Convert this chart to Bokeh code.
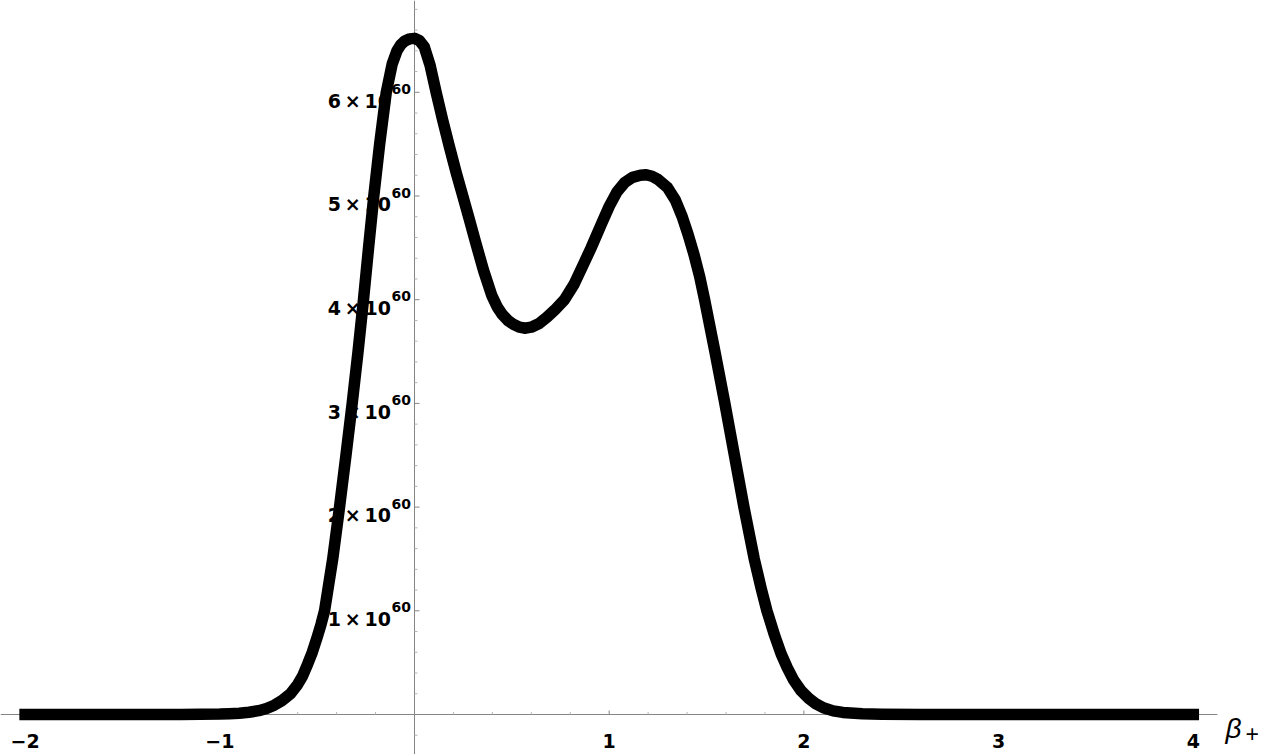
from bokeh.plotting import figure
from bokeh.models import Range1d
from bokeh.core.properties import value
from bokeh.embed import file_html
from bokeh.resources import INLINE

SCALE = 1e60

# curve (density in units of 1e60)
beta = [
    -2.0, -1.6, -1.2, -1.0, -0.95, -0.9, -0.85, -0.8, -0.76, -0.72,
    -0.68, -0.637, -0.6, -0.575, -0.548, -0.525, -0.5, -0.48, -0.462, -0.42,
    -0.385, -0.352, -0.32, -0.29, -0.262, -0.236, -0.209, -0.179, -0.145, -0.115,
    -0.09, -0.07, -0.05, -0.025, 0.0, 0.025, 0.05, 0.08, 0.111, 0.145,
    0.18, 0.215, 0.248, 0.28, 0.312, 0.355, 0.397, 0.425, 0.45, 0.48,
    0.51, 0.54, 0.565, 0.6, 0.64, 0.68, 0.72, 0.77, 0.82, 0.87,
    0.907, 0.96, 1.0, 1.04, 1.08, 1.12, 1.16, 1.19, 1.22, 1.25,
    1.3, 1.34, 1.375, 1.405, 1.435, 1.465, 1.49, 1.543, 1.594, 1.643,
    1.692, 1.745, 1.78, 1.81, 1.85, 1.883, 1.915, 1.948, 1.985, 2.025,
    2.06, 2.1, 2.15, 2.2, 2.3, 2.4, 2.6, 2.8, 3.2, 3.6, 4.0]
density = [
    0.0, 0.0, 0.0005, 0.004, 0.008, 0.013, 0.022, 0.037, 0.058, 0.09,
    0.135, 0.2, 0.29, 0.37, 0.49, 0.6, 0.745, 0.87, 1.0, 1.5,
    2.0, 2.5, 3.0, 3.5, 4.0, 4.5, 5.0, 5.5, 6.0, 6.27,
    6.4, 6.46, 6.495, 6.515, 6.52, 6.5, 6.44, 6.26, 6.0, 5.73,
    5.47, 5.22, 5.0, 4.785, 4.565, 4.28, 4.04, 3.93, 3.86, 3.8,
    3.76, 3.735, 3.725, 3.735, 3.77, 3.83, 3.9, 4.0, 4.15, 4.35,
    4.5, 4.73, 4.9, 5.04, 5.13, 5.18, 5.2, 5.205, 5.19, 5.16,
    5.08, 4.96, 4.8, 4.63, 4.44, 4.22, 4.0, 3.5, 3.0, 2.5,
    2.0, 1.5, 1.22, 1.0, 0.76, 0.585, 0.45, 0.33, 0.23, 0.155,
    0.105, 0.065, 0.035, 0.02, 0.007, 0.003, 0.0005, 0.0, 0.0, 0.0, 0.0]

x_major = [-2, -1, 1, 2, 3, 4]
x_major_labels = ["\u22122", "\u22121", "1", "2", "3", "4"]
y_major = [1, 2, 3, 4, 5, 6]
y_major_labels = ["1", "2", "3", "4", "5", "6"]
y_exponent = "60"
axis_label = "\u03b2"
axis_label_sub = "+"

W, H = 1263, 754
PXU = 194.7            # pixels per unit of beta
PYU = 103.7            # pixels per 1e60
X0 = -414 / PXU
X1 = X0 + W / PXU
Y1 = 714 / PYU * SCALE
Y0 = Y1 - H / PYU * SCALE
PX = (X1 - X0) / W          # data-x per pixel
PY = (Y1 - Y0) / H          # data-y per pixel
X_AXIS_END = 4.124

x_minor = [round(-2 + 0.2 * i, 3) for i in range(31)]
x_minor = [v for v in x_minor if abs(v - round(v)) > 1e-6]
y_minor = [round(-0.2 + 0.2 * i, 3) for i in range(36)]
y_minor = [v for v in y_minor if abs(v - round(v)) > 1e-6 and v * SCALE < Y1]

p = figure(width=W, height=H, x_range=Range1d(X0, X1), y_range=Range1d(Y0, Y1),
           output_backend="svg", toolbar_location=None,
           x_axis_type=None, y_axis_type=None, min_border=0,
           outline_line_color=None, background_fill_color="white",
           border_fill_color="white")

AX = "#858585"
MINOR = "#b5b5b5"
# axes lines
p.segment(x0=[X0], y0=[0], x1=[X_AXIS_END], y1=[0], line_color=AX, line_width=1)
p.segment(x0=[0], y0=[Y0], x1=[0], y1=[Y1], line_color=AX, line_width=1)

# x ticks (upward)
p.segment(x0=x_major, y0=[0] * len(x_major), x1=x_major, y1=[4 * PY] * len(x_major),
          line_color=AX, line_width=1)
p.segment(x0=x_minor, y0=[0] * len(x_minor), x1=x_minor, y1=[2.5 * PY] * len(x_minor),
          line_color=MINOR, line_width=1)
# y ticks (rightward)
ym = [v * SCALE for v in y_major]
yn = [v * SCALE for v in y_minor]
p.segment(x0=[0] * len(ym), y0=ym, x1=[5 * PX] * len(ym), y1=ym, line_color=AX, line_width=1)
p.segment(x0=[0] * len(yn), y0=yn, x1=[3 * PX] * len(yn), y1=yn, line_color=MINOR, line_width=1)

FONT = value("DejaVu Sans")
# x tick labels
p.text(x=x_major, y=[-26 * PY] * len(x_major), text=x_major_labels,
       text_font=FONT, text_font_style="bold", text_font_size="19px",
       text_align="center", text_baseline="alphabetic", text_color="black")
# y tick labels
p.text(x=[-23.5 * PX] * len(ym), y=[v - 8.3 * PY for v in ym],
       text=[f"{s}\u2009\u00d7\u200910" for s in y_major_labels],
       text_font=FONT, text_font_style="bold", text_font_size="19px",
       text_align="right", text_baseline="alphabetic", text_color="black")
p.text(x=[-23.0 * PX] * len(ym), y=[v + 3.4 * PY for v in ym],
       text=[y_exponent] * len(ym),
       text_font=FONT, text_font_style="bold", text_font_size="14px",
       text_align="left", text_baseline="alphabetic", text_color="black")

# axis label
p.text(x=[X_AXIS_END + 8 * PX], y=[-14 * PY], text=[axis_label],
       text_font=value("Liberation Sans"), text_font_style="italic",
       text_font_size="28px", text_align="left", text_baseline="alphabetic",
       text_color="black")
p.text(x=[X_AXIS_END + 28 * PX], y=[-19 * PY], text=[axis_label_sub],
       text_font=value("Liberation Sans"), text_font_size="23px",
       text_align="left", text_baseline="alphabetic", text_color="black")

# curve on top
p.line(beta, [d * SCALE for d in density], line_width=11.5, line_color="black",
       line_cap="square", line_join="round")

open("out.html", "w").write(file_html(p, INLINE))
